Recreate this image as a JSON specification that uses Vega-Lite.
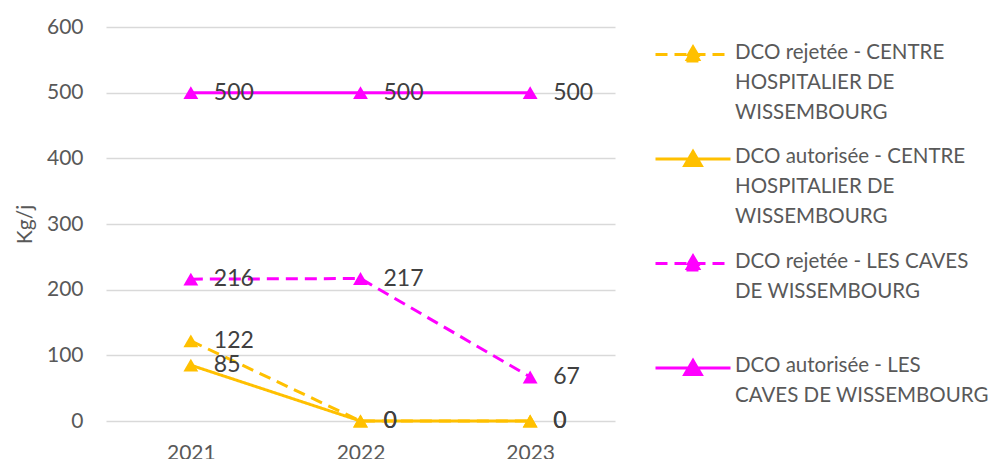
{
  "$schema": "https://vega.github.io/schema/vega-lite/v6.json",
  "width": 509,
  "height": 394,
  "autosize": {"type": "none"},
  "padding": {"left": 106, "top": 27, "right": 381, "bottom": 38},
  "background": "white",
  "config": {"view": {"stroke": null}, "font": "Lato"},
  "data": {
    "values": [
      {"year": "2021", "series": "DCO rejetée - CENTRE HOSPITALIER DE WISSEMBOURG", "value": 122},
      {"year": "2022", "series": "DCO rejetée - CENTRE HOSPITALIER DE WISSEMBOURG", "value": 0},
      {"year": "2023", "series": "DCO rejetée - CENTRE HOSPITALIER DE WISSEMBOURG", "value": 0},
      {"year": "2021", "series": "DCO autorisée - CENTRE HOSPITALIER DE WISSEMBOURG", "value": 85},
      {"year": "2022", "series": "DCO autorisée - CENTRE HOSPITALIER DE WISSEMBOURG", "value": 0},
      {"year": "2023", "series": "DCO autorisée - CENTRE HOSPITALIER DE WISSEMBOURG", "value": 0},
      {"year": "2021", "series": "DCO rejetée - LES CAVES DE WISSEMBOURG", "value": 216},
      {"year": "2022", "series": "DCO rejetée - LES CAVES DE WISSEMBOURG", "value": 217},
      {"year": "2023", "series": "DCO rejetée - LES CAVES DE WISSEMBOURG", "value": 67},
      {"year": "2021", "series": "DCO autorisée - LES CAVES DE WISSEMBOURG", "value": 500},
      {"year": "2022", "series": "DCO autorisée - LES CAVES DE WISSEMBOURG", "value": 500},
      {"year": "2023", "series": "DCO autorisée - LES CAVES DE WISSEMBOURG", "value": 500}
    ]
  },
  "encoding": {
    "x": {
      "field": "year", "type": "ordinal",
      "scale": {"type": "point", "padding": 0.5},
      "axis": {"title": null, "labelAngle": 0, "domain": false, "ticks": false, "tickSize": 0, "labelPadding": 21, "labelFontSize": 21, "labelColor": "#595959", "labelFont": "Lato"}
    },
    "y": {
      "field": "value", "type": "quantitative",
      "scale": {"domain": [0, 600]},
      "axis": {"title": "Kg/j", "titleFontSize": 21, "titleFontWeight": "normal", "titleColor": "#595959", "titlePadding": 11, "titleFont": "Lato", "values": [0, 100, 200, 300, 400, 500, 600], "domain": false, "ticks": false, "tickSize": 0, "labelPadding": 23, "labelFontSize": 21, "labelColor": "#595959", "labelFont": "Lato", "gridColor": "#d9d9d9", "gridWidth": 1.3}
    },
    "color": {
      "field": "series", "type": "nominal",
      "scale": {
        "domain": ["DCO rejetée - CENTRE HOSPITALIER DE WISSEMBOURG", "DCO autorisée - CENTRE HOSPITALIER DE WISSEMBOURG", "DCO rejetée - LES CAVES DE WISSEMBOURG", "DCO autorisée - LES CAVES DE WISSEMBOURG"],
        "range": ["#FFC000", "#FFC000", "#FF00FF", "#FF00FF"]
      },
      "legend": {
        "title": null,
        "orient": "none",
        "legendX": 570.5,
        "legendY": 11,
        "padding": 0,
        "symbolType": "M-2.5,0H2.5M0,-0.5L0.55,0.43L-0.55,0.43Z",
        "symbolSize": 900,
        "symbolStrokeWidth": 3,
        "symbolOffset": 0,
        "labelFontSize": 20.5,
        "labelColor": "#595959",
        "labelFont": "Lato",
        "labelLimit": 400,
        "labelOffset": 25.5,
        "labelBaseline": "top",
        "rowPadding": 19.5,
        "gridAlign": "all",
        "labelExpr": "datum.label == 'DCO rejetée - CENTRE HOSPITALIER DE WISSEMBOURG' ? ['DCO rejetée - CENTRE', 'HOSPITALIER DE', 'WISSEMBOURG'] : datum.label == 'DCO autorisée - CENTRE HOSPITALIER DE WISSEMBOURG' ? ['DCO autorisée - CENTRE', 'HOSPITALIER DE', 'WISSEMBOURG'] : datum.label == 'DCO rejetée - LES CAVES DE WISSEMBOURG' ? ['DCO rejetée - LES CAVES', 'DE WISSEMBOURG'] : ['DCO autorisée - LES', 'CAVES DE WISSEMBOURG']",
        "encode": {
          "symbols": {"update": {
            "fill": {"scale": "color", "field": "value"},
            "stroke": {"scale": "color", "field": "value"},
            "strokeDash": {"signal": "indexof(datum.value, 'rejetée') >= 0 ? [10, 51, 14, 0] : [1, 0]"}
          }},
          "labels": {"update": {"lineHeight": {"value": 30}, "dy": {"value": -12}}}
        }
      }
    }
  },
  "layer": [
    {
      "mark": {"type": "line", "strokeWidth": 3},
      "encoding": {
        "strokeDash": {
          "field": "series", "type": "nominal",
          "scale": {
            "domain": ["DCO rejetée - CENTRE HOSPITALIER DE WISSEMBOURG", "DCO autorisée - CENTRE HOSPITALIER DE WISSEMBOURG", "DCO rejetée - LES CAVES DE WISSEMBOURG", "DCO autorisée - LES CAVES DE WISSEMBOURG"],
            "range": [[12, 7], [1, 0], [12, 7], [1, 0]]
          },
          "legend": null
        }
      }
    },
    {
      "mark": {"type": "point", "shape": "triangle-up", "filled": true, "opacity": 1, "size": 220}
    },
    {
      "mark": {"type": "text", "align": "left", "baseline": "middle", "dx": 23, "fontSize": 23, "font": "Lato", "color": "#404040"},
      "encoding": {"text": {"field": "value", "type": "quantitative"}, "color": {"value": "#404040"}}
    }
  ]
}
